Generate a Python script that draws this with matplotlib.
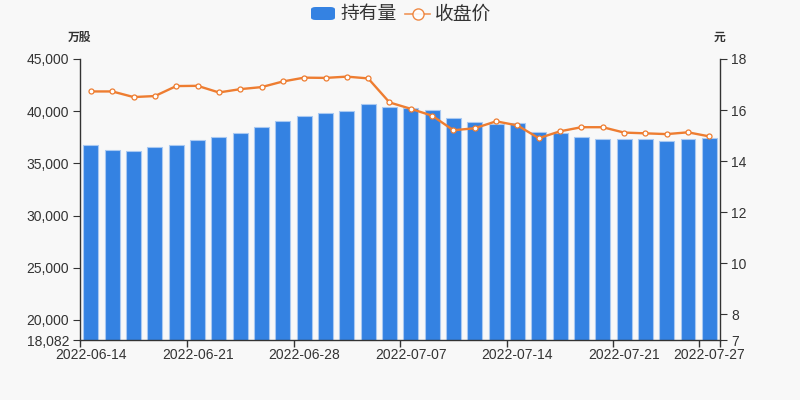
import matplotlib
matplotlib.use("Agg")
import matplotlib.pyplot as plt
from matplotlib.ticker import FuncFormatter
from matplotlib.patches import FancyBboxPatch
from matplotlib.lines import Line2D

plt.rcParams['font.family'] = ['Liberation Sans', 'Noto Sans CJK SC', 'DejaVu Sans']

dates = ["2022-06-14", "2022-06-15", "2022-06-16", "2022-06-17", "2022-06-20",
         "2022-06-21", "2022-06-22", "2022-06-23", "2022-06-24", "2022-06-27",
         "2022-06-28", "2022-06-29", "2022-06-30", "2022-07-04", "2022-07-06",
         "2022-07-07", "2022-07-08", "2022-07-11", "2022-07-12", "2022-07-13",
         "2022-07-14", "2022-07-15", "2022-07-18", "2022-07-19", "2022-07-20",
         "2022-07-21", "2022-07-22", "2022-07-25", "2022-07-26", "2022-07-27"]
holdings = [36755, 36302, 36206, 36562, 36726, 37207, 37525, 37910, 38488, 39037,
            39576, 39836, 40029, 40732, 40443, 40318, 40125, 39355, 38970, 38748,
            38873, 37978, 37940, 37525, 37364, 37304, 37332, 37140, 37332, 37400]
close = [16.73, 16.73, 16.51, 16.55, 16.94, 16.95, 16.69, 16.82, 16.90, 17.12,
         17.27, 17.26, 17.31, 17.24, 16.30, 16.05, 15.78, 15.21, 15.29, 15.56,
         15.40, 14.90, 15.17, 15.33, 15.33, 15.12, 15.09, 15.06, 15.13, 14.97]
left_ticks = [18082, 20000, 25000, 30000, 35000, 40000, 45000]
right_ticks = [7, 8, 10, 12, 14, 16, 18]
label_idx = [0, 5, 10, 15, 20, 25, 29]

bg = "#f8f8f8"
bar_c = "#3482e2"
line_c = "#ee7d31"
txt_c = "#333333"
ax_c = "#333333"

fig = plt.figure(figsize=(8, 4), dpi=100, facecolor=bg)
ax = fig.add_axes([80.3/800, 1-340/400, (720-80.3)/800, (340-59)/400])
ax.set_facecolor(bg)
x = list(range(len(dates)))
ax.bar(x, holdings, width=0.7, color=bar_c, edgecolor="#a9c9f2", linewidth=0.8, zorder=2)
ax.set_xlim(-0.5, len(dates)-0.5)
ax.set_ylim(left_ticks[0], left_ticks[-1])
ax.set_yticks(left_ticks)
ax.yaxis.set_major_formatter(FuncFormatter(lambda v, p: f"{int(round(v)):,}"))
ax.set_xticks(label_idx)
ax.set_xticklabels([dates[i] for i in label_idx])
ax.set_xticks([i-0.5 for i in label_idx] + [len(dates)-0.5], minor=True)
ax.tick_params(axis='x', which='major', length=0, pad=6, labelsize=10, labelcolor=txt_c)
ax.tick_params(axis='x', which='minor', length=5, color=ax_c, width=1)
ax.tick_params(axis='y', length=5, color=ax_c, labelsize=10, labelcolor=txt_c, pad=3)
for s in ['top', 'right']:
    ax.spines[s].set_visible(False)
for s in ['left', 'bottom']:
    ax.spines[s].set_color(ax_c)
    ax.spines[s].set_linewidth(1)

ax2 = ax.twinx()
ax2.plot(x, close, color=line_c, linewidth=1.7, marker='o', markersize=3.6,
         markerfacecolor='white', markeredgecolor=line_c, markeredgewidth=0.9, zorder=3)
ax2.set_ylim(right_ticks[0], right_ticks[-1])
ax2.set_yticks(right_ticks)
ax2.tick_params(axis='y', length=5, color=ax_c, labelsize=10, labelcolor=txt_c, pad=3)
for s in ['top', 'left', 'bottom']:
    ax2.spines[s].set_visible(False)
ax2.spines['right'].set_color(ax_c)
ax2.spines['right'].set_linewidth(1)

fig.text(80/800, 1-37/400, "万股", ha='center', va='center', fontsize=8.5,
         fontweight='bold', color=txt_c, family=['Noto Sans CJK SC'])
fig.text(720/800, 1-37/400, "元", ha='center', va='center', fontsize=8.5,
         fontweight='bold', color=txt_c, family=['Noto Sans CJK SC'])

# legend
leg_y = 1-14/400
fig.patches.append(FancyBboxPatch((311/800, 1-20/400), 24/800, 13/400,
                                  boxstyle="round,pad=0,rounding_size=0.006",
                                  transform=fig.transFigure, facecolor=bar_c,
                                  edgecolor='none'))
fig.text(340/800, leg_y, "持有量", ha='left', va='center', fontsize=13.5,
         color=txt_c, family=['Noto Sans CJK SC'])
fig.lines.append(Line2D([405/800, 430/800], [leg_y, leg_y], transform=fig.transFigure,
                        color=line_c, linewidth=1.2, alpha=0.8))
fig.lines.append(Line2D([417.5/800], [leg_y], transform=fig.transFigure, marker='o',
                        markersize=8, markerfacecolor='white', markeredgecolor=line_c,
                        markeredgewidth=1.0, color=line_c, alpha=0.9))
fig.text(435/800, leg_y, "收盘价", ha='left', va='center', fontsize=13.5,
         color=txt_c, family=['Noto Sans CJK SC'])

fig.savefig("out.png", dpi=100, facecolor=bg)
